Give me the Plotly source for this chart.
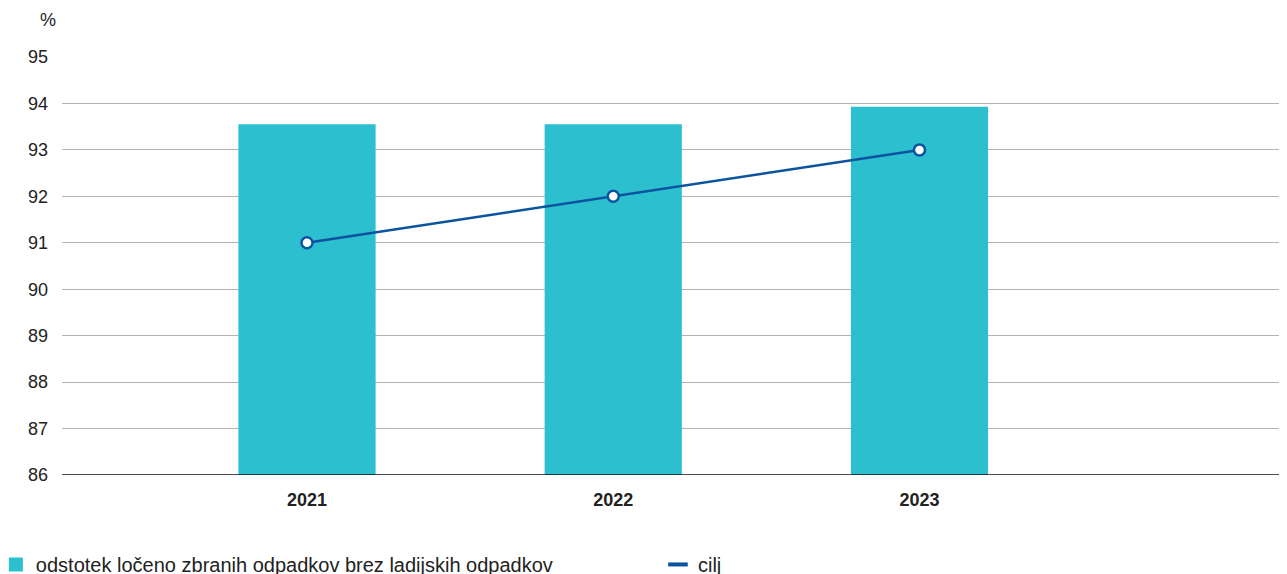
import plotly.graph_objects as go

years = [2021, 2022, 2023]
year_labels = ["2021", "2022", "2023"]
share = [93.55, 93.55, 93.93]
target = [91, 92, 93]
y_ticks = [86, 87, 88, 89, 90, 91, 92, 93, 94, 95]

BAR = "#2bbfcf"
LINE = "#0b539f"
FONT = "Liberation Sans, Arial, sans-serif"
TXT = "#222222"
SERIES_NAME = "odstotek ločeno zbranih odpadkov brez ladijskih odpadkov"
TARGET_NAME = "cilj"

fig = go.Figure()
fig.add_trace(go.Bar(
    x=years, y=share, width=0.448, marker=dict(color=BAR, line=dict(width=0)),
    name=SERIES_NAME, showlegend=False,
))
fig.add_trace(go.Scatter(
    x=years, y=target, mode="lines+markers", name=TARGET_NAME, showlegend=False,
    line=dict(color=LINE, width=2.5),
    marker=dict(size=11, color="white", line=dict(color=LINE, width=2.5)),
))
# legend-only entries
fig.add_trace(go.Scatter(
    x=[None], y=[None], mode="markers", name=SERIES_NAME, legend="legend",
    marker=dict(symbol="square", size=14, color=BAR),
))
fig.add_trace(go.Scatter(
    x=[None], y=[None], mode="markers", name=TARGET_NAME, legend="legend2",
    marker=dict(symbol="line-ew", size=14, color=LINE, line=dict(color=LINE, width=4)),
))

leg_common = dict(orientation="h", xanchor="left", y=-0.214, yanchor="middle",
                  font=dict(size=20, color=TXT), itemwidth=30,
                  bgcolor="rgba(0,0,0,0)")

fig.update_layout(
    width=1287, height=574,
    margin=dict(l=54, r=8, t=49, b=107, autoexpand=False),
    plot_bgcolor="white", paper_bgcolor="white",
    font=dict(family=FONT, size=18, color=TXT),
    showlegend=True,
    legend=dict(x=-0.054, **leg_common),
    legend2=dict(x=0.4865, **leg_common),
    annotations=[dict(text="%", xref="paper", yref="paper", x=-0.003, y=1.0,
                      xanchor="right", yanchor="bottom", yshift=25, showarrow=False,
                      font=dict(size=18, color=TXT))],
)
fig.update_xaxes(
    range=[2020.2, 2024.2], tickvals=years, ticktext=year_labels,
    showgrid=False, zeroline=False, showline=False, ticks="",
    tickfont=dict(family=FONT, size=18, color=TXT, weight="bold"),
    ticklabelstandoff=12,
)
fig.update_yaxes(
    range=[86, 95], tickvals=y_ticks, ticktext=[str(v) for v in y_ticks],
    showgrid=True, gridcolor="#b3b3b3", gridwidth=1, zeroline=False,
    showline=False, ticks="", ticklabelstandoff=13,
    tickfont=dict(family=FONT, size=18, color=TXT),
)
fig.add_hline(y=86, line=dict(color="#111111", width=1.3), layer="above")

fig.write_html("out.html")
